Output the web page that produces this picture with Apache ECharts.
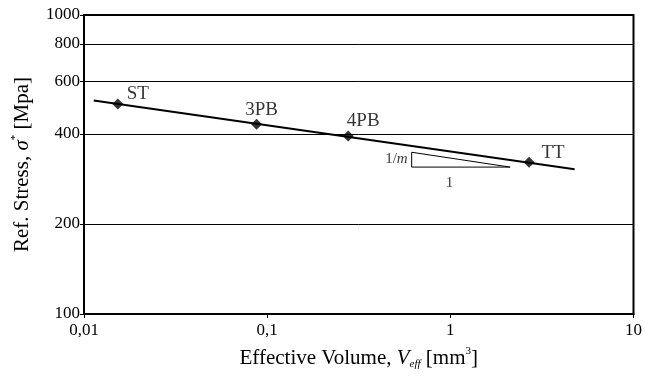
<!DOCTYPE html>
<html>
<head>
<meta charset="utf-8">
<script src="https://cdn.jsdelivr.net/npm/echarts@6/dist/echarts.min.js"></script>
<style>
  html, body { margin: 0; padding: 0; background: #fff; }
  #chart { width: 645px; height: 378px; }
</style>
</head>
<body>
<div id="chart"></div>
<script>
// measured points
const pointNames = ["ST", "3PB", "4PB", "TT"];
const volume = [0.0153, 0.0875, 0.277, 2.69];
const stress = [504, 431, 394, 322];

// fitted line ends
const fitX = [0.0113, 4.77];
const fitY = [518, 305];

// slope triangle
const triX = [0.615, 0.615, 2.12, 0.615];
const triY = [347.5, 310, 310, 347.5];

const xTicks = [0.01, 0.1, 1, 10];
const xTickLabels = ["0,01", "0,1", "1", "10"];
const yTicks = [100, 200, 400, 600, 800, 1000];

const font = "Liberation Serif";
const chart = echarts.init(document.getElementById("chart"));

const labelOffsets = [[20, 9], [5, 5], [15, 4], [24, 10]];

const option = {
  animation: false,
  textStyle: { fontFamily: font, color: "#000" },
  grid: {
    left: 84, right: 11, top: 15, bottom: 64,
    show: true, borderColor: "#000", borderWidth: 2
  },
  xAxis: {
    type: "log",
    min: 0.01,
    max: 10,
    name: "Effective Volume, {i|V}{sub|eff} [mm{sup|3}]",
    nameLocation: "middle",
    nameGap: 32,
    nameTextStyle: {
      fontFamily: font, fontSize: 21, color: "#000", lineHeight: 24,
      rich: {
        i: { fontFamily: font, fontSize: 21, fontStyle: "italic", lineHeight: 24 },
        sub: { fontFamily: font, fontSize: 11, fontStyle: "italic", lineHeight: 11, verticalAlign: "bottom" },
        sup: { fontFamily: font, fontSize: 11, lineHeight: 11, verticalAlign: "top" }
      }
    },
    axisLine: { lineStyle: { color: "#000", width: 2 } },
    axisTick: { length: 4, lineStyle: { color: "#000" }, customValues: xTicks },
    axisLabel: {
      customValues: xTicks,
      fontFamily: font, fontSize: 17, color: "#000", margin: 8,
      formatter: v => xTickLabels[xTicks.findIndex(t => Math.abs(t - v) < t * 1e-6)]
    },
    splitLine: { show: false },
    minorTick: { show: false }
  },
  yAxis: {
    type: "log",
    min: 100,
    max: 1000,
    name: "Ref. Stress, {i|σ}{sup|*} [Mpa]",
    nameLocation: "middle",
    nameRotate: 90,
    nameGap: 50,
    nameTextStyle: {
      fontFamily: font, fontSize: 21, color: "#000", lineHeight: 24,
      rich: {
        i: { fontFamily: font, fontSize: 21, fontStyle: "italic", lineHeight: 24 },
        sup: { fontFamily: font, fontSize: 11, lineHeight: 11, verticalAlign: "top" }
      }
    },
    axisLine: { lineStyle: { color: "#000", width: 2 } },
    axisTick: { length: 4, lineStyle: { color: "#000" }, customValues: yTicks },
    axisLabel: {
      customValues: yTicks,
      fontFamily: font, fontSize: 17, color: "#000", margin: 4,
      formatter: v => String(Math.round(v))
    },
    splitLine: { show: true, lineStyle: { color: "#000", width: 1 } }
  },
  series: [
    {
      type: "line",
      data: fitX.map((x, i) => [x, fitY[i]]),
      symbol: "none",
      lineStyle: { color: "#000", width: 2 },
      z: 3
    },
    {
      type: "line",
      data: triX.map((x, i) => [x, triY[i]]),
      symbol: "none",
      lineStyle: { color: "#000", width: 1 },
      z: 3
    },
    {
      type: "scatter",
      data: volume.map((x, i) => ({
        value: [x, stress[i]],
        name: pointNames[i],
        label: { offset: labelOffsets[i] }
      })),
      symbol: "diamond",
      symbolSize: 11,
      itemStyle: { color: "#000" },
      label: {
        show: true,
        position: "top",
        distance: 4,
        formatter: p => p.name,
        fontFamily: font, fontSize: 19, color: "#000"
      },
      z: 4
    },
    {
      type: "scatter",
      symbolSize: 0,
      silent: true,
      data: [
        { value: [triX[0], 329], label: { position: "left", distance: 4, formatter: "1/{i|m}" } },
        { value: [0.99, 310], label: { position: "bottom", distance: 8, formatter: "1" } }
      ],
      label: {
        show: true,
        fontFamily: font, fontSize: 15, color: "#000",
        rich: { i: { fontFamily: font, fontSize: 15, fontStyle: "italic" } }
      }
    }
  ]
};

chart.setOption(option);
</script>
</body>
</html>
